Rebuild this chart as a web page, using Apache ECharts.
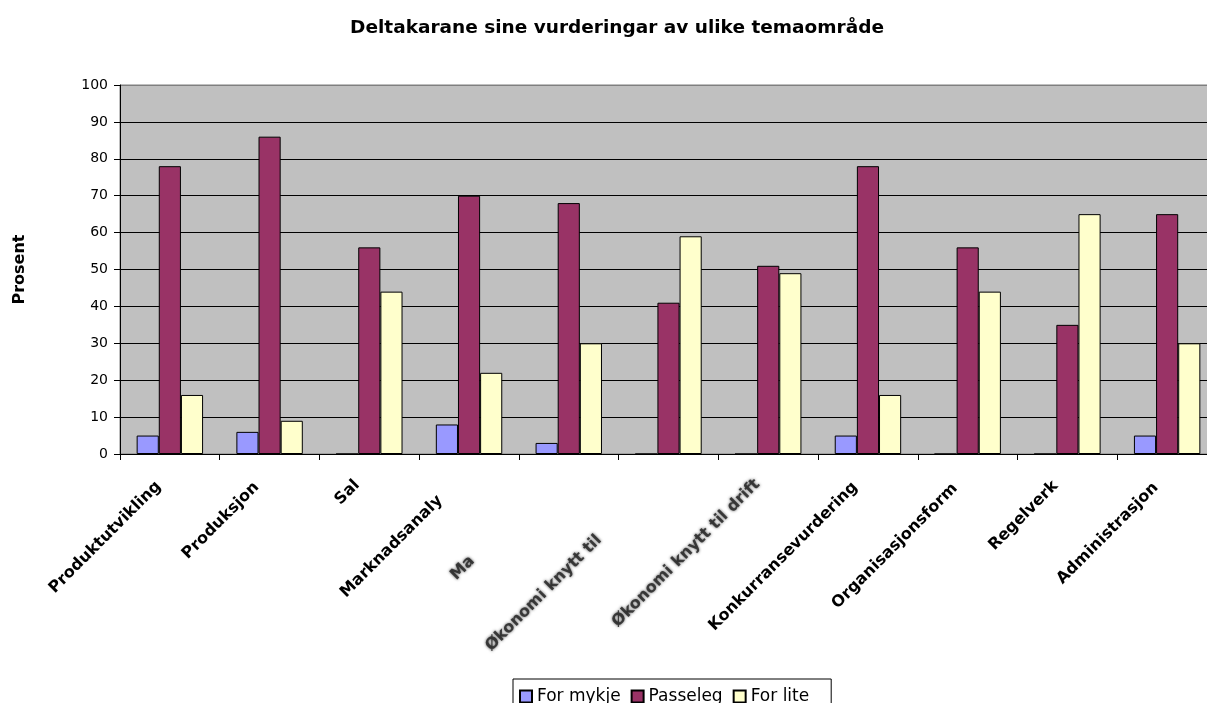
<!DOCTYPE html>
<html><head><meta charset="utf-8">
<script src="https://cdn.jsdelivr.net/npm/echarts@6/dist/echarts.min.js"></script>
<style>html,body{margin:0;padding:0;background:#fff}#c{width:1207px;height:703px}</style>
</head><body><div id="c"></div>
<script>
// ---- data ----
const categories = ['Produktutvikling','Produksjon','Sal','Marknadsanaly','Ma','Økonomi knytt til','Økonomi knytt til drift','Konkurransevurdering','Organisasjonsform','Regelverk','Administrasjon'];
const forMykje = [5, 6, 0, 8, 3, 0, 0, 5, 0, 0, 5];
const passeleg = [78, 86, 56, 70, 68, 41, 51, 78, 56, 35, 65];
const forLite  = [16, 9, 44, 22, 30, 59, 49, 16, 44, 65, 30];
const seriesNames = ['For mykje', 'Passeleg', 'For lite'];
const yMin = 0, yMax = 100, yStep = 10;
const titleText = 'Deltakarane sine vurderingar av ulike temaområde';
const yAxisName = 'Prosent';

// ---- layout / style ----
const FONT = 'DejaVu Sans';
const colors = ['#9999FF', '#993366', '#FFFFCC'];
// per-label shift [along text backwards, perpendicular down]
const labelShift = [[99,7.5],[76,7],[37,6],[114.5,5],[150,0],[181,4.4],[122.7,6.4],[126.7,7.2],[111,7.8],[69,7],[92.4,8.4]];
const blurred = [false,false,false,false,true,true,true,false,false,false,false];
const rich = {};
labelShift.forEach((s, i) => {
  const st = {
    fontFamily: FONT, fontWeight: 'bold', fontSize: 16, color: '#000',
    padding: [Math.round(2 * s[1]), Math.round(2 * s[0]), 0, 0]
  };
  if (blurred[i]) {
    st.color = 'rgba(40,40,40,0.85)';
    st.textShadowColor = 'rgba(0,0,0,0.8)';
    st.textShadowBlur = 3;
  }
  rich['c' + i] = st;
});

const nSplit = (yMax - yMin) / yStep + 1;
const splitColors = [];
for (let k = 0; k < nSplit; k++) splitColors.push(k === nSplit - 1 ? '#7f7f7f' : '#000');

const chart = echarts.init(document.getElementById('c'), null, {renderer: 'canvas'});
chart.setOption({
  backgroundColor: '#fff',
  animation: false,
  title: {
    text: titleText, left: 612, top: 14, textAlign: 'center',
    textStyle: {fontFamily: FONT, fontWeight: 'bold', fontSize: 18.5, color: '#000'}
  },
  legend: {
    data: seriesNames, left: 513, top: 679, orient: 'horizontal',
    itemWidth: 12, itemHeight: 12, itemGap: 10, icon: 'rect',
    padding: [9, 22, 8, 6], borderColor: '#000', borderWidth: 1, borderRadius: 0,
    textStyle: {fontFamily: FONT, fontSize: 17, color: '#000'}
  },
  grid: {
    left: 120, top: 85, width: 1097, height: 369, show: true,
    outerBoundsMode: 'none', containLabel: false,
    backgroundColor: '#C0C0C0', borderColor: '#7f7f7f', borderWidth: 1
  },
  xAxis: {
    type: 'category', data: categories,
    axisLine: {show: true, lineStyle: {color: '#000', width: 1}},
    axisTick: {show: true, alignWithLabel: false, interval: 0, length: 6, lineStyle: {color: '#000'}},
    axisLabel: {
      interval: 0, rotate: 45, margin: 8, align: 'center', verticalAlign: 'middle',
      formatter: (v, i) => '{c' + i + '|' + v + '}', rich: rich
    },
    splitLine: {show: false}
  },
  yAxis: {
    type: 'value', min: yMin, max: yMax, interval: yStep,
    name: yAxisName, nameLocation: 'middle', nameGap: 92, nameRotate: 90,
    nameTextStyle: {fontFamily: FONT, fontWeight: 'bold', fontSize: 16, color: '#000'},
    axisLine: {show: true, lineStyle: {color: '#000', width: 1}},
    axisTick: {show: true, length: 6, lineStyle: {color: '#000'}},
    axisLabel: {margin: 12, fontFamily: FONT, fontSize: 14, color: '#000'},
    splitLine: {show: true, lineStyle: {color: splitColors, width: 1}}
  },
  series: [forMykje, passeleg, forLite].map((d, k) => ({
    name: seriesNames[k], type: 'bar', data: d,
    barGap: '0%', barCategoryGap: '33.4%',
    itemStyle: {color: colors[k], borderColor: '#000', borderWidth: 1}
  }))
});
</script></body></html>
